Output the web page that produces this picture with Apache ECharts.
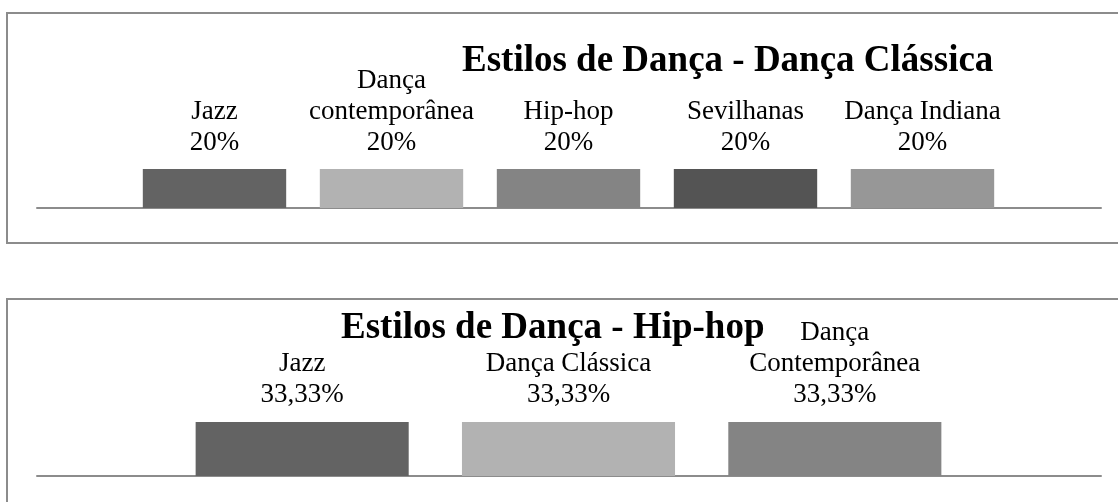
<!DOCTYPE html>
<html>
<head>
<meta charset="utf-8">
<script src="https://cdn.jsdelivr.net/npm/echarts@6/dist/echarts.min.js"></script>
<style>
  html, body { margin: 0; padding: 0; background: #fff; overflow: hidden; }
  .box { position: absolute; border: 2px solid #8c8c8c; box-sizing: border-box; }
  #main { position: absolute; left: 0; top: 0; width: 1118px; height: 502px; }
</style>
</head>
<body>
<div class="box" style="left:6px; top:12px; width:1130px; height:232px;"></div>
<div class="box" style="left:6px; top:298px; width:1130px; height:240px;"></div>
<div id="main"></div>
<script>
// grafico 1 - Dança Clássica
const classicaTitle = "Estilos de Dança - Dança Clássica";
const classicaCategories = ["Jazz", "Dança\ncontemporânea", "Hip-hop", "Sevilhanas", "Dança Indiana"];
const classicaValues = [20, 20, 20, 20, 20];
const classicaColors = ["#636363", "#b2b2b2", "#848484", "#545454", "#979797"];

// grafico 2 - Hip-hop
const hiphopTitle = "Estilos de Dança - Hip-hop";
const hiphopCategories = ["Jazz", "Dança Clássica", "Dança\nContemporânea"];
const hiphopValues = [33.33, 33.33, 33.33];
const hiphopColors = ["#636363", "#b2b2b2", "#848484"];

const fontFamily = "Liberation Serif";

function pct(v) {
  return (Number.isInteger(v) ? String(v) : v.toFixed(2).replace(".", ",")) + "%";
}

function barSeries(index, categories, values, colors, width, distance) {
  return {
    type: "bar",
    xAxisIndex: index,
    yAxisIndex: index,
    barWidth: width,
    data: values.map((v, i) => ({ value: v, itemStyle: { color: colors[i] } })),
    label: {
      show: true,
      position: "top",
      distance: distance,
      color: "#000",
      fontFamily: fontFamily,
      fontSize: 27,
      lineHeight: 31,
      align: "center",
      formatter: (p) => categories[p.dataIndex] + "\n" + pct(p.value),
    },
    silent: true,
    z: 3,
  };
}

const titleStyle = { fontFamily: fontFamily, fontSize: 37, fontWeight: "bold", color: "#000", lineHeight: 40 };

const chart = echarts.init(document.getElementById("main"));
const option = {
  animation: false,
  title: [
    { text: classicaTitle, left: 457, top: 36, textStyle: titleStyle },
    { text: hiphopTitle, left: 336, top: 303, textStyle: titleStyle },
  ],
  grid: [
    { left: 126, width: 885, top: 130, height: 78 },
    { left: 169, width: 799, top: 368, height: 108 },
    // grids so para a linha do eixo, que é mais comprida
    { left: 37, width: 1064, top: 200, height: 8 },
    { left: 37, width: 1064, top: 468, height: 8 },
  ],
  xAxis: [
    { type: "category", gridIndex: 0, data: classicaCategories, axisLine: { show: false }, axisTick: { show: false }, axisLabel: { show: false } },
    { type: "category", gridIndex: 1, data: hiphopCategories, axisLine: { show: false }, axisTick: { show: false }, axisLabel: { show: false } },
    { type: "value", gridIndex: 2, min: 0, max: 1, axisLine: { show: true, lineStyle: { color: "#8c8c8c", width: 2 } }, axisTick: { show: false }, axisLabel: { show: false }, splitLine: { show: false } },
    { type: "value", gridIndex: 3, min: 0, max: 1, axisLine: { show: true, lineStyle: { color: "#8c8c8c", width: 2 } }, axisTick: { show: false }, axisLabel: { show: false }, splitLine: { show: false } },
  ],
  yAxis: [
    { type: "value", gridIndex: 0, min: 0, max: 40, show: false },
    { type: "value", gridIndex: 1, min: 0, max: 66.66, show: false },
    { type: "value", gridIndex: 2, min: 0, max: 1, show: false },
    { type: "value", gridIndex: 3, min: 0, max: 1, show: false },
  ],
  series: [
    barSeries(0, classicaCategories, classicaValues, classicaColors, "81%", 11),
    barSeries(1, hiphopCategories, hiphopValues, hiphopColors, "80%", 12),
  ],
};
chart.setOption(option);
</script>
</body>
</html>
